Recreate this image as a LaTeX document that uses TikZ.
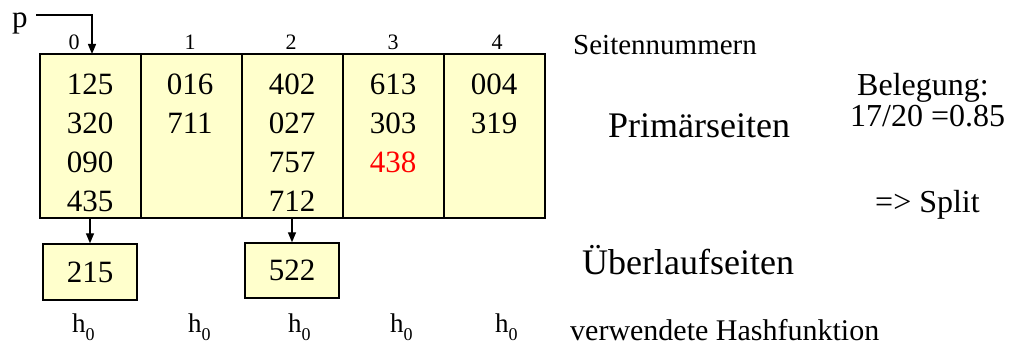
\documentclass[tikz,border=0pt]{standalone}
\usepackage{fontspec}
\setmainfont{Liberation Serif}
\usetikzlibrary{arrows.meta}
\definecolor{pageyellow}{RGB}{255,255,204}
\begin{document}
\begin{tikzpicture}[x=1pt,y=-1pt,
  cell/.style={draw, line width=1.4pt, fill=pageyellow, minimum width=101pt, minimum height=164pt, inner sep=0pt},
  ovl/.style={draw, line width=1.4pt, fill=pageyellow, minimum width=94pt, minimum height=56pt, inner sep=0pt, font=\fontsize{31}{31}\selectfont},
  num/.style={font=\fontsize{31}{31}\selectfont, anchor=base, inner sep=0pt},
  colno/.style={font=\fontsize{22}{22}\selectfont, anchor=base, inner sep=0pt},
  hlabel/.style={font=\fontsize{27}{27}\selectfont, anchor=base west, inner sep=0pt},
  side/.style={anchor=base west, inner sep=0pt},
  arr/.style={line width=1.4pt, -{Triangle[length=10pt,width=8pt]}}]
\useasboundingbox (0,0) rectangle (1015,347);
% primary pages
\node[cell] (c0) at (90.5,136) {};
\node[cell] (c1) at (191.5,136) {};
\node[cell] (c2) at (292.5,136) {};
\node[cell] (c3) at (393.5,136) {};
\node[cell] (c4) at (494.5,136) {};
% page numbers
\node[colno] (n0) at (74,50) {0};
\node[colno] (n1) at (190,50) {1};
\node[colno] (n2) at (291,50) {2};
\node[colno] (n3) at (393,50) {3};
\node[colno] (n4) at (497,50) {4};
% pointer p
\node[font=\fontsize{31}{31}\selectfont, anchor=base, inner sep=0pt] (p) at (20,28) {p};
\coordinate (pa) at (36,15);
\coordinate (pb) at (92,54);
\draw[arr] (pa) -| (pb);
% contents
\node[num] (k00) at (90,95) {125};
\node[num] (k01) at (90,134) {320};
\node[num] (k02) at (90,173) {090};
\node[num] (k03) at (90,211.5) {435};
\node[num] (k10) at (190,95) {016};
\node[num] (k11) at (190,134) {711};
\node[num] (k20) at (292,95) {402};
\node[num] (k21) at (292,134) {027};
\node[num] (k22) at (292,173) {757};
\node[num] (k23) at (292,211.5) {712};
\node[num] (k30) at (393,95) {613};
\node[num] (k31) at (393,134) {303};
\node[num, text=red] (k32) at (393,173) {438};
\node[num] (k40) at (494,95) {004};
\node[num] (k41) at (494,134) {319};
% overflow pages
\node[ovl] (o0) at (90,272) {215};
\node[ovl, minimum height=55pt] (o2) at (292,270.5) {522};
\draw[arr] (c0.south -| o0.north) -- (o0.north);
\draw[arr] (c2.south -| o2.north) -- (o2.north);
% hash functions
\foreach \i/\x in {0/72,1/188,2/288,3/390,4/495}{
  \node[hlabel] (h\i) at (\x,333) {h\raisebox{-0.28em}{\fontsize{18}{18}\selectfont 0}};
}
% side texts
\node[side, font=\fontsize{29}{29}\selectfont] (t1) at (573,55) {Seitennummern};
\node[side, font=\fontsize{36}{36}\selectfont] (t2) at (608,138) {Primärseiten};
\node[side, font=\fontsize{32}{32}\selectfont] (t3) at (857,96) {Belegung:};
\node[side, font=\fontsize{32}{32}\selectfont] (t4) at (850,126.5) {17/20 =0.85};
\node[side, font=\fontsize{32}{32}\selectfont] (t5) at (875,213) {=> Split};
\node[side, font=\fontsize{36}{36}\selectfont] (t6) at (582,275) {Überlaufseiten};
\node[side, font=\fontsize{30}{30}\selectfont] (t7) at (570,341) {verwendete Hashfunktion};
\end{tikzpicture}
\end{document}
